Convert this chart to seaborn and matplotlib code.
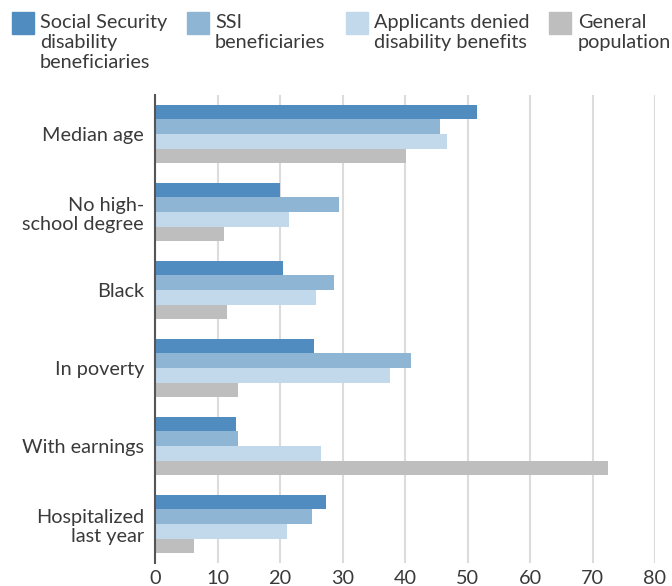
import matplotlib
matplotlib.use("Agg")
import matplotlib.pyplot as plt
from matplotlib.patches import Rectangle
import seaborn as sns
import pandas as pd

categories = ["Median age", "No high-\nschool degree", "Black", "In poverty",
              "With earnings", "Hospitalized\nlast year"]
series = ["Social Security\ndisability\nbeneficiaries", "SSI\nbeneficiaries",
          "Applicants denied\ndisability benefits", "General\npopulation"]
ss_disability = [51.5, 20.0, 20.5, 25.4, 12.9, 27.3]
ssi = [45.6, 29.5, 28.7, 41.0, 13.3, 25.1]
denied = [46.7, 21.5, 25.8, 37.6, 26.6, 21.1]
general = [40.1, 11.1, 11.5, 13.3, 72.5, 6.3]
x_ticks = [0, 10, 20, 30, 40, 50, 60, 70, 80]

colors = ["#508cbf", "#8fb5d5", "#c2d8eb", "#bebebe"]

rows = []
for s, vals in zip(series, [ss_disability, ssi, denied, general]):
    for c, v in zip(categories, vals):
        rows.append({"category": c, "series": s, "value": v})
df = pd.DataFrame(rows)

sns.set_theme(style="white")
plt.rcParams["font.family"] = ["Lato", "DejaVu Sans"]
text_color = "#3a3a3a"

fig = plt.figure(figsize=(6.72, 5.86), dpi=100)
ax = fig.add_axes([155/672, 1 - 563/586, (655 - 155)/672, (563 - 95)/586])

sns.barplot(data=df, y="category", x="value", hue="series", order=categories,
            hue_order=series, palette=colors, orient="h", width=0.75,
            linewidth=0, saturation=1, legend=False, ax=ax, zorder=3)

ax.set_xlim(0, 80)
ax.set_ylim(5.5, -0.5)
ax.set_xticks(x_ticks)
ax.set_xticklabels([str(t) for t in x_ticks])
ax.set_xlabel("")
ax.set_ylabel("")
ax.grid(axis="x", color="#dcdcdc", linewidth=1.5, zorder=0)
ax.grid(axis="y", visible=False)
for side in ["top", "right", "bottom"]:
    ax.spines[side].set_visible(False)
ax.spines["left"].set_color("#555555")
ax.spines["left"].set_linewidth(1.5)
ax.spines["left"].set_zorder(4)
ax.tick_params(axis="both", length=0, labelsize=14.3, colors=text_color)
ax.tick_params(axis="y", pad=8)
ax.tick_params(axis="x", pad=5)
for lab in ax.get_yticklabels():
    lab.set_linespacing(1.15)
    lab.set_horizontalalignment("right")

# legend drawn manually at top
patch_x = [12, 187, 346, 549]
text_x = [40, 215, 374, 578]
for px, tx, col, lab in zip(patch_x, text_x, colors, series):
    fig.patches.append(Rectangle((px/672, 1 - 34/586), 22/672, 22/586,
                                 transform=fig.transFigure, color=col,
                                 figure=fig))
    fig.text(tx/672, 1 - 14/586, lab, ha="left", va="top", fontsize=14.3,
             color=text_color, linespacing=1.2)

fig.savefig("out.png", dpi=100)
